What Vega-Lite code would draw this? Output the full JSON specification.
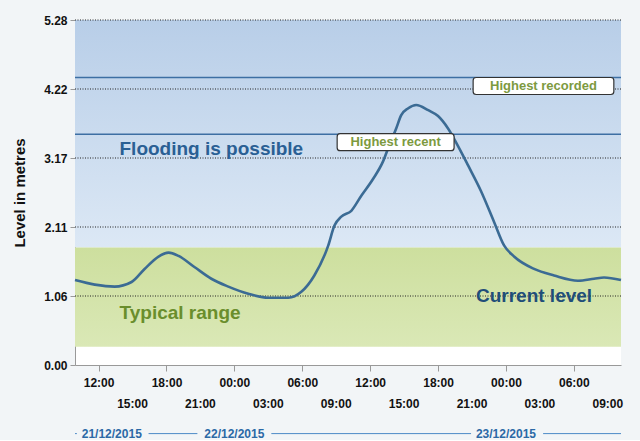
{
  "$schema": "https://vega.github.io/schema/vega-lite/v6.json",
  "background": "#f2f5f7",
  "width": 546,
  "height": 345,
  "padding": {"left": 12, "top": 14, "right": 20, "bottom": 0},
  "config": {"view": {"stroke": null}, "font": "Liberation Sans"},
  "view": {"fill": "white", "stroke": null},
  "layer": [
    {
      "data": {"values": [{"v": 1.80, "v2": 5.28}]},
      "mark": {"type": "rect", "fill": {"gradient": "linear", "x1": 0, "y1": 0, "x2": 0, "y2": 1, "stops": [{"offset": 0, "color": "#b8cee8"}, {"offset": 1, "color": "#dce8f5"}]}},
      "encoding": {
        "y": {"field": "v", "type": "quantitative", "scale": {"domain": [0, 5.28], "nice": false, "zero": false},
          "axis": {"values": [0, 1.056, 2.112, 3.168, 4.224, 5.28], "format": ".2f", "grid": false, "tickSize": 5, "tickColor": "#999999", "domainColor": "#999999", "labelFont": "Liberation Sans", "labelFontWeight": "bold", "labelFontSize": 12, "labelColor": "#111111", "labelPadding": 3, "title": "Level in metres", "titleFont": "Liberation Sans", "titleFontSize": 15, "titleFontWeight": "bold", "titleColor": "#111111", "titlePadding": 16}},
        "y2": {"field": "v2"}
      }
    },
    {
      "data": {"values": [{"v": 0.28, "v2": 1.80}]},
      "mark": {"type": "rect", "fill": {"gradient": "linear", "x1": 0, "y1": 0, "x2": 0, "y2": 1, "stops": [{"offset": 0, "color": "#cddf9e"}, {"offset": 1, "color": "#dae8b6"}]}},
      "encoding": {
        "y": {"field": "v", "type": "quantitative"},
        "y2": {"field": "v2"}
      }
    },
    {
      "data": {"values": [{"v": 1.056}, {"v": 2.112}, {"v": 3.168}, {"v": 4.224}, {"v": 5.28}]},
      "mark": {"type": "rule", "color": "#222222", "strokeWidth": 1, "strokeDash": [1, 1.5]},
      "encoding": {"y": {"field": "v", "type": "quantitative"}}
    },
    {
      "data": {"values": [{"v": 4.40}, {"v": 3.53}]},
      "mark": {"type": "rule", "color": "#3d6fa3", "strokeWidth": 1.5},
      "encoding": {"y": {"field": "v", "type": "quantitative"}}
    },
    {
      "data": {"values": [
        {"t": "2015-12-21T09:55", "v": 1.30},
        {"t": "2015-12-21T11:40", "v": 1.23},
        {"t": "2015-12-21T13:25", "v": 1.20},
        {"t": "2015-12-21T14:55", "v": 1.27},
        {"t": "2015-12-21T16:04", "v": 1.47},
        {"t": "2015-12-21T17:18", "v": 1.66},
        {"t": "2015-12-21T18:11", "v": 1.72},
        {"t": "2015-12-21T19:04", "v": 1.67},
        {"t": "2015-12-21T20:28", "v": 1.50},
        {"t": "2015-12-21T21:58", "v": 1.32},
        {"t": "2015-12-21T23:28", "v": 1.20},
        {"t": "2015-12-22T01:14", "v": 1.09},
        {"t": "2015-12-22T03:00", "v": 1.03},
        {"t": "2015-12-22T04:46", "v": 1.03},
        {"t": "2015-12-22T05:55", "v": 1.12},
        {"t": "2015-12-22T07:04", "v": 1.37},
        {"t": "2015-12-22T08:18", "v": 1.83},
        {"t": "2015-12-22T08:50", "v": 2.13},
        {"t": "2015-12-22T09:27", "v": 2.27},
        {"t": "2015-12-22T10:20", "v": 2.36},
        {"t": "2015-12-22T11:13", "v": 2.59},
        {"t": "2015-12-22T12:16", "v": 2.85},
        {"t": "2015-12-22T13:09", "v": 3.12},
        {"t": "2015-12-22T13:41", "v": 3.36},
        {"t": "2015-12-22T14:18", "v": 3.62},
        {"t": "2015-12-22T14:44", "v": 3.82},
        {"t": "2015-12-22T15:22", "v": 3.93},
        {"t": "2015-12-22T16:04", "v": 3.98},
        {"t": "2015-12-22T17:08", "v": 3.90},
        {"t": "2015-12-22T18:00", "v": 3.81},
        {"t": "2015-12-22T18:53", "v": 3.62},
        {"t": "2015-12-22T19:46", "v": 3.35},
        {"t": "2015-12-22T20:40", "v": 3.05},
        {"t": "2015-12-22T21:48", "v": 2.66},
        {"t": "2015-12-22T22:57", "v": 2.19},
        {"t": "2015-12-22T23:50", "v": 1.83},
        {"t": "2015-12-23T00:43", "v": 1.66},
        {"t": "2015-12-23T02:29", "v": 1.47},
        {"t": "2015-12-23T04:15", "v": 1.37},
        {"t": "2015-12-23T06:22", "v": 1.29},
        {"t": "2015-12-23T07:47", "v": 1.32},
        {"t": "2015-12-23T08:40", "v": 1.34},
        {"t": "2015-12-23T10:10", "v": 1.30}
      ]},
      "mark": {"type": "line", "color": "#3b6b94", "strokeWidth": 2.6, "interpolate": "monotone"},
      "encoding": {
        "x": {"field": "t", "type": "temporal", "title": null, "scale": {"nice": false},
          "axis": {"orient": "bottom", "tickCount": "hour", "labelExpr": "hours(datum.value) % 6 == 0 ? timeFormat(datum.value, '%H:%M') : ''", "labelOverlap": false, "labelFlush": false, "labelFont": "Liberation Sans", "labelFontWeight": "bold", "labelFontSize": 12, "labelColor": "#111111", "tickSize": 6, "tickColor": "#999999", "domainColor": "#999999", "labelPadding": 6, "grid": false}},
        "y": {"field": "v", "type": "quantitative"}
      }
    },
    {
      "data": {"values": [
        {"t": "2015-12-22T21:06", "t2": "2015-12-23T09:32", "v": 4.14, "v2": 4.40},
        {"t": "2015-12-22T09:05", "t2": "2015-12-22T19:25", "v": 3.28, "v2": 3.54}
      ]},
      "mark": {"type": "rect", "fill": "white", "stroke": "#333333", "strokeWidth": 1.2, "cornerRadius": 3},
      "encoding": {
        "x": {"field": "t", "type": "temporal"},
        "x2": {"field": "t2"},
        "y": {"field": "v", "type": "quantitative"},
        "y2": {"field": "v2"}
      }
    },
    {
      "data": {"values": [
        {"t": "2015-12-23T03:19", "v": 4.27, "label": "Highest recorded"},
        {"t": "2015-12-22T14:15", "v": 3.41, "label": "Highest recent"}
      ]},
      "mark": {"type": "text", "font": "Liberation Sans", "fontWeight": "bold", "fontSize": 13, "color": "#7d9a3f", "align": "center", "baseline": "middle"},
      "encoding": {
        "x": {"field": "t", "type": "temporal"},
        "y": {"field": "v", "type": "quantitative"},
        "text": {"field": "label"}
      }
    },
    {
      "data": {"values": [
        {"t": "2015-12-21T13:51", "v": 3.21, "label": "Flooding is possible", "zone": "flood"},
        {"t": "2015-12-21T13:51", "v": 0.70, "label": "Typical range", "zone": "typical"},
        {"t": "2015-12-22T21:21", "v": 0.97, "label": "Current level", "zone": "current"}
      ]},
      "mark": {"type": "text", "font": "Liberation Sans", "fontWeight": "bold", "fontSize": 19, "align": "left", "baseline": "alphabetic"},
      "encoding": {
        "x": {"field": "t", "type": "temporal"},
        "y": {"field": "v", "type": "quantitative"},
        "text": {"field": "label"},
        "color": {"field": "zone", "type": "nominal", "legend": null, "scale": {"domain": ["flood", "typical", "current"], "range": ["#2a5f94", "#6a8e2c", "#1f4e79"]}}
      }
    },
    {
      "data": {"values": [
        {"t": "2015-12-21T15:00", "label": "15:00"},
        {"t": "2015-12-21T21:00", "label": "21:00"},
        {"t": "2015-12-22T03:00", "label": "03:00"},
        {"t": "2015-12-22T09:00", "label": "09:00"},
        {"t": "2015-12-22T15:00", "label": "15:00"},
        {"t": "2015-12-22T21:00", "label": "21:00"},
        {"t": "2015-12-23T03:00", "label": "03:00"},
        {"t": "2015-12-23T09:00", "label": "09:00"}
      ]},
      "mark": {"type": "text", "font": "Liberation Sans", "fontWeight": "bold", "fontSize": 12, "color": "#111111", "align": "center", "baseline": "middle"},
      "encoding": {
        "x": {"field": "t", "type": "temporal"},
        "y": {"datum": -0.6},
        "text": {"field": "label"}
      }
    },
    {
      "data": {"values": [
        {"t": "2015-12-21T09:55", "t2": "2015-12-21T10:05"},
        {"t": "2015-12-21T16:25", "t2": "2015-12-21T20:44"},
        {"t": "2015-12-22T03:16", "t2": "2015-12-22T20:55"},
        {"t": "2015-12-23T03:17", "t2": "2015-12-23T10:10"}
      ]},
      "mark": {"type": "rule", "color": "#4d8bc6", "strokeWidth": 1},
      "encoding": {
        "x": {"field": "t", "type": "temporal"},
        "x2": {"field": "t2"},
        "y": {"datum": -1.05}
      }
    },
    {
      "data": {"values": [
        {"t": "2015-12-21T13:10", "label": "21/12/2015"},
        {"t": "2015-12-22T00:00", "label": "22/12/2015"},
        {"t": "2015-12-23T00:00", "label": "23/12/2015"}
      ]},
      "mark": {"type": "text", "font": "Liberation Sans", "fontWeight": "bold", "fontSize": 12, "color": "#2b69a6", "align": "center", "baseline": "middle"},
      "encoding": {
        "x": {"field": "t", "type": "temporal"},
        "y": {"datum": -1.05},
        "text": {"field": "label"}
      }
    }
  ]
}
